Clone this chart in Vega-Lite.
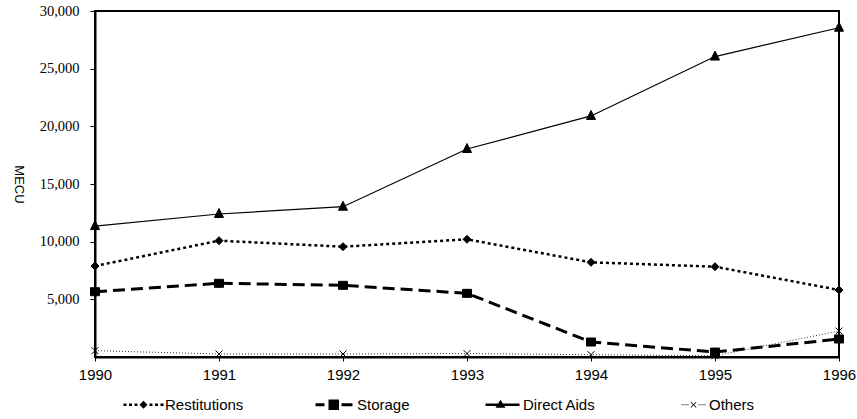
{
  "$schema": "https://vega.github.io/schema/vega-lite/v6.json",
  "width": 744,
  "height": 346,
  "autosize": {"type": "none"},
  "padding": {"left": 95, "top": 11, "right": 18, "bottom": 62},
  "background": "white",
  "config": {
    "view": {"stroke": "black", "strokeWidth": 2},
    "axis": {"grid": false, "domainColor": "black", "domainWidth": 2, "tickColor": "black", "labelColor": "black", "titleColor": "black"}
  },
  "data": {
    "values": [
      {"year": 1990, "series": "Restitutions", "value": 7890},
      {"year": 1991, "series": "Restitutions", "value": 10085},
      {"year": 1992, "series": "Restitutions", "value": 9565},
      {"year": 1993, "series": "Restitutions", "value": 10205},
      {"year": 1994, "series": "Restitutions", "value": 8210},
      {"year": 1995, "series": "Restitutions", "value": 7830},
      {"year": 1996, "series": "Restitutions", "value": 5810},
      {"year": 1990, "series": "Storage", "value": 5660},
      {"year": 1991, "series": "Storage", "value": 6390},
      {"year": 1992, "series": "Storage", "value": 6215},
      {"year": 1993, "series": "Storage", "value": 5520},
      {"year": 1994, "series": "Storage", "value": 1300},
      {"year": 1995, "series": "Storage", "value": 430},
      {"year": 1996, "series": "Storage", "value": 1560},
      {"year": 1990, "series": "Direct Aids", "value": 11350},
      {"year": 1991, "series": "Direct Aids", "value": 12400},
      {"year": 1992, "series": "Direct Aids", "value": 13030},
      {"year": 1993, "series": "Direct Aids", "value": 18035},
      {"year": 1994, "series": "Direct Aids", "value": 20900},
      {"year": 1995, "series": "Direct Aids", "value": 26050},
      {"year": 1996, "series": "Direct Aids", "value": 28550},
      {"year": 1990, "series": "Others", "value": 550},
      {"year": 1991, "series": "Others", "value": 260},
      {"year": 1992, "series": "Others", "value": 260},
      {"year": 1993, "series": "Others", "value": 300},
      {"year": 1994, "series": "Others", "value": 200},
      {"year": 1995, "series": "Others", "value": 110},
      {"year": 1996, "series": "Others", "value": 2250}
    ]
  },
  "encoding": {
    "x": {
      "field": "year", "type": "quantitative",
      "scale": {"domain": [1990, 1996], "nice": false, "zero": false},
      "axis": {"title": null, "values": [1990, 1991, 1992, 1993, 1994, 1995, 1996], "format": "d", "labelFont": "Liberation Sans", "labelFontSize": 15, "tickSize": 4, "labelPadding": 6, "labelFlush": false}
    },
    "y": {
      "field": "value", "type": "quantitative",
      "scale": {"domain": [0, 30000], "nice": false},
      "axis": {"title": "MECU", "values": [5000, 10000, 15000, 20000, 25000, 30000], "format": ",d", "labelFont": "Liberation Serif", "labelFontSize": 14.5, "tickSize": 5, "labelPadding": 11, "titleFont": "Liberation Sans", "titleFontSize": 13, "titleFontWeight": "normal", "titleAngle": 90, "titleX": -77, "titleY": 173, "titleAlign": "center", "titleBaseline": "middle"}
    }
  },
  "resolve": {"scale": {"shape": "independent"}, "legend": {"shape": "independent"}},
  "layer": [
    {
      "transform": [{"filter": "datum.series === 'Restitutions'"}],
      "mark": {"type": "line", "color": "black", "strokeDash": [3, 3], "strokeWidth": 2.5},
      "encoding": {}
    },
    {
      "transform": [{"filter": "datum.series === 'Storage'"}],
      "mark": {"type": "line", "color": "black", "strokeDash": [12, 6], "strokeWidth": 3},
      "encoding": {}
    },
    {
      "transform": [{"filter": "datum.series === 'Direct Aids'"}],
      "mark": {"type": "line", "color": "black", "strokeWidth": 1.2},
      "encoding": {}
    },
    {
      "transform": [{"filter": "datum.series === 'Others'"}],
      "mark": {"type": "line", "color": "#333333", "strokeDash": [1, 2], "strokeWidth": 1},
      "encoding": {}
    },
    {
      "mark": {"type": "point", "filled": true, "fill": "black", "stroke": "black", "strokeWidth": 1, "opacity": 1, "size": 100},
      "encoding": {
        "shape": {
          "field": "series", "type": "nominal",
          "scale": {"domain": ["Restitutions", "Storage", "Direct Aids", "Others"], "range": ["M0,-0.8L0.8,0L0,0.8L-0.8,0Z", "M-0.9,-0.8H0.9V0.8H-0.9Z", "M-0.9,0.7L0,-1.1L0.9,0.7Z", "M-0.7,-0.7L0.7,0.7M-0.7,0.7L0.7,-0.7"]},
          "legend": null
        }
      }
    },
    {
      "transform": [{"filter": "false"}],
      "mark": {"type": "point", "filled": true, "color": "black", "opacity": 1},
      "encoding": {
        "shape": {
          "field": "series", "type": "nominal",
          "scale": {"domain": ["Restitutions", "Storage", "Direct Aids", "Others"], "range": [
            "M0,-0.6H1.5V0.6H0Z M2.75,-0.6H4.25V0.6H2.75Z M5.5,-0.6H7V0.6H5.5Z M10,-2L12,0L10,2L8,0Z M13,-0.6H14.5V0.6H13Z M15.75,-0.6H17.25V0.6H15.75Z M18.5,-0.6H20V0.6H18.5Z",
            "M0,-0.75H4.5V0.75H0Z M6.5,-2.6H11.75V2.6H6.5Z M13,-0.75H18.5V0.75H13Z",
            "M2,-0.65H19V0.65H2Z M7,1.5L9.5,-2.5L12,1.5Z",
            "M7,-0.25H7.5V0.25H7Z M8,-0.25H8.5V0.25H8Z M9,-0.25H9.5V0.25H9Z M10,-0.25H10.5V0.25H10Z M11.5,-1.2L11.8,-1.5L13,-0.3L14.2,-1.5L14.5,-1.2L13.3,0L14.5,1.2L14.2,1.5L13,0.3L11.8,1.5L11.5,1.2L12.7,0Z M15.5,-0.25H16V0.25H15.5Z M16.5,-0.25H17V0.25H16.5Z M17.5,-0.25H18V0.25H17.5Z M18.5,-0.25H19V0.25H18.5Z"
          ]},
          "legend": {
            "title": null,
            "orient": "none",
            "legendX": 21,
            "legendY": 386,
            "direction": "horizontal",
            "columns": 4,
            "columnPadding": 64,
            "labelOffset": 34,
            "symbolSize": 16,
            "symbolStrokeWidth": 0,
            "symbolFillColor": "black",
            "symbolOpacity": 1,
            "labelFont": "Liberation Sans",
            "labelFontSize": 15,
            "labelColor": "black"
          }
        }
      }
    }
  ]
}
